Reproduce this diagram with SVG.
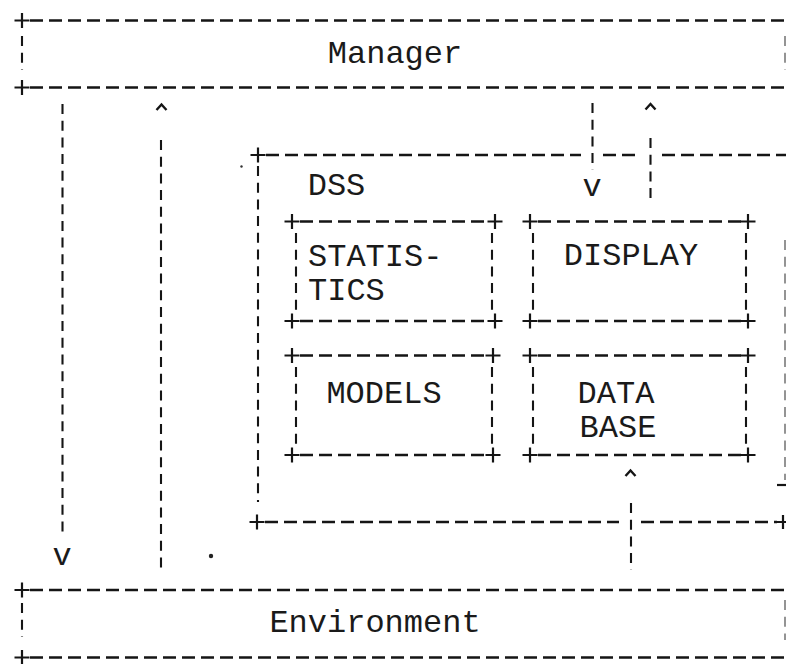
<svg xmlns="http://www.w3.org/2000/svg" width="786" height="664" viewBox="0 0 786 664">
<defs>
<style>
.h{fill:none;stroke:#151515;stroke-width:2.6;stroke-dasharray:13 6}
.v{fill:none;stroke:#151515;stroke-width:2.1;stroke-dasharray:10 6.7}
.vf{fill:none;stroke:#7a7a7a;stroke-width:1.6;stroke-dasharray:10 6.7}
.p{fill:none;stroke:#151515;stroke-width:2.2}
.car{fill:none;stroke:#151515;stroke-width:2.4;stroke-linejoin:miter}
.t{font-family:"Liberation Mono","Courier New",monospace;font-size:32px;fill:#1a1a1a}
.tm{text-anchor:middle}
</style>
<path id="plus" d="M-7.5 0H7.5M0 -7.5V7.5"/>
</defs>
<rect width="786" height="664" fill="#ffffff"/>

<g id="manager">
<use href="#plus" x="22" y="20.5" class="p"/>
<path class="h" d="M30 20.5H786"/>
<use href="#plus" x="22" y="87.5" class="p"/>
<path class="h" d="M30 87.5H786"/>
<path class="v" d="M22 36V70"/>
<path class="vf" d="M785 36V70"/>
<text class="t tm" x="395" y="63">Manager</text>
</g>

<g id="environment">
<use href="#plus" x="22" y="590" class="p"/>
<path class="h" d="M30 590H786"/>
<use href="#plus" x="22" y="657.5" class="p"/>
<path class="h" d="M30 657.5H786"/>
<path class="v" d="M22 603V637"/>
<path class="vf" d="M785 600V640"/>
<text class="t tm" x="375" y="632">Environment</text>
</g>

<g id="dss">
<use href="#plus" x="258" y="155" class="p"/>
<path class="h" d="M266 155H581M603 155H641M662 155H786"/>
<path class="v" d="M258 166V502"/>
<use href="#plus" x="257" y="522" class="p"/>
<path class="h" d="M265 522H619M641 522H777"/>
<path class="p" d="M777 522H786M783 515V529"/>
<path class="vf" d="M785 240V480"/>
<path class="p" d="M777 485H786"/>
<text class="t tm" x="336.5" y="195">DSS</text>
</g>

<g id="statistics">
<use href="#plus" x="292" y="221.5" class="p"/>
<use href="#plus" x="495" y="221.5" class="p"/>
<use href="#plus" x="292" y="321" class="p"/>
<use href="#plus" x="495" y="321" class="p"/>
<path class="h" d="M300 221.5H488M300 321H488"/>
<path class="v" d="M296 233V311M492 233V311"/>
<text class="t" x="308" y="266">STATIS-</text>
<text class="t" x="308" y="300">TICS</text>
</g>

<g id="display">
<use href="#plus" x="530" y="221.5" class="p"/>
<use href="#plus" x="748" y="221.5" class="p"/>
<use href="#plus" x="530" y="321" class="p"/>
<use href="#plus" x="748" y="321" class="p"/>
<path class="h" d="M538 221.5H741M538 321H741"/>
<path class="v" d="M533 233V311M746 233V311"/>
<text class="t tm" x="631" y="265">DISPLAY</text>
</g>

<g id="models">
<use href="#plus" x="292" y="355.5" class="p"/>
<use href="#plus" x="493" y="355.5" class="p"/>
<use href="#plus" x="292" y="455" class="p"/>
<use href="#plus" x="493" y="455" class="p"/>
<path class="h" d="M300 355.5H486M300 455H486"/>
<path class="v" d="M296 367V445M492 367V445"/>
<text class="t tm" x="384" y="403">MODELS</text>
</g>

<g id="database">
<use href="#plus" x="530" y="355.5" class="p"/>
<use href="#plus" x="748" y="355.5" class="p"/>
<use href="#plus" x="530" y="455" class="p"/>
<use href="#plus" x="748" y="455" class="p"/>
<path class="h" d="M538 355.5H741M538 455H741"/>
<path class="v" d="M533 367V445M746 367V445"/>
<text class="t tm" x="616" y="403">DATA</text>
<text class="t tm" x="618" y="437">BASE</text>
</g>

<g id="connectors">
<path class="v" d="M62.5 104V536"/>
<text class="t tm" x="62" y="565">v</text>
<path class="v" d="M161 140V570"/>
<path class="car" d="M156.5 110L161.5 104.5L166.5 110"/>
<path class="v" d="M592.5 103V170"/>
<text class="t tm" x="592" y="196">v</text>
<path class="v" d="M650.5 138V202"/>
<path class="car" d="M645.5 109.5L650.5 104L655.5 109.5"/>
<path class="v" d="M631 503V570"/>
<path class="car" d="M625.5 476L630.5 470.5L635.5 476"/>
</g>

<g id="marks">
<circle cx="241.5" cy="166.5" r="1.2" fill="#333"/>
<circle cx="211" cy="556" r="2.2" fill="#222"/>
</g>
</svg>
